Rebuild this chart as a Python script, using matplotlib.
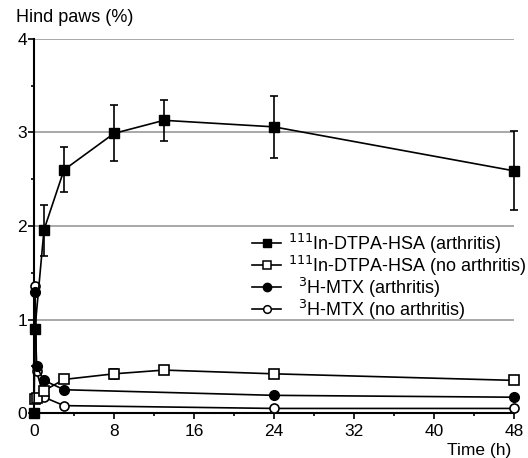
import matplotlib
matplotlib.use('Agg')
import matplotlib.pyplot as plt
from matplotlib.ticker import MultipleLocator
from matplotlib.lines import Line2D

plt.rcParams['font.family'] = ['Liberation Sans', 'DejaVu Sans']

# 111In-DTPA-HSA (arthritis)
t_hsa_a = [0, 0.1, 1, 3, 8, 13, 24, 48]
y_hsa_a = [0.0, 0.9, 1.96, 2.6, 2.99, 3.13, 3.06, 2.59]
lo_hsa_a = [0, 0, 0.28, 0.24, 0.29, 0.22, 0.33, 0.42]
hi_hsa_a = [0, 0, 0.27, 0.24, 0.30, 0.22, 0.33, 0.43]

# 111In-DTPA-HSA (no arthritis)
t_hsa_n = [0.1, 0.25, 1, 3, 8, 13, 24, 48]
y_hsa_n = [0.15, 0.16, 0.24, 0.36, 0.42, 0.46, 0.42, 0.35]
err_hsa_n = [0, 0, 0, 0, 0.05, 0.02, 0.03, 0.02]

# 3H-MTX (arthritis)
t_mtx_a = [0.1, 0.25, 1, 3, 24, 48]
y_mtx_a = [1.29, 0.5, 0.35, 0.25, 0.19, 0.17]

# 3H-MTX (no arthritis)
t_mtx_n = [0.1, 0.25, 1, 3, 24, 48]
y_mtx_n = [1.36, 0.45, 0.17, 0.08, 0.05, 0.05]

labels = ['$^{111}$In-DTPA-HSA (arthritis)',
          '$^{111}$In-DTPA-HSA (no arthritis)',
          '  $^{3}$H-MTX (arthritis)',
          '  $^{3}$H-MTX (no arthritis)']

fig = plt.figure(figsize=(5.28, 4.58), dpi=100)
ax = fig.add_axes([0.0644, 0.098, 0.909, 0.817])

for y in [1, 2, 3, 4]:
    ax.axhline(y, color='#999999', lw=1.2, zorder=0)

kw = dict(color='black', lw=1.2, capsize=3, elinewidth=1.2, capthick=1.2, clip_on=False)
ax.errorbar(t_hsa_a, y_hsa_a, yerr=[lo_hsa_a, hi_hsa_a], fmt='-s', ms=7,
            mfc='black', mec='black', zorder=5, **kw)
ax.errorbar(t_hsa_n, y_hsa_n, yerr=err_hsa_n, fmt='-s', ms=7,
            mfc='white', mec='black', mew=1.2, zorder=4, **kw)
ax.plot(t_mtx_a, y_mtx_a, '-o', color='black', lw=1.2, ms=7,
        mfc='black', zorder=4, clip_on=False)
ax.plot(t_mtx_n, y_mtx_n, '-o', color='black', lw=1.2, ms=6.5,
        mfc='white', mew=1.2, zorder=3, clip_on=False)

ax.set_xlim(0, 48)
ax.set_ylim(0, 4)
ax.xaxis.set_major_locator(MultipleLocator(8))
ax.xaxis.set_minor_locator(MultipleLocator(4))
ax.yaxis.set_major_locator(MultipleLocator(1))
ax.yaxis.set_minor_locator(MultipleLocator(0.5))
ax.tick_params(which='both', direction='out', labelsize=12.5, width=1.2)
ax.tick_params(which='major', length=4)
ax.tick_params(which='minor', length=2)
ax.tick_params(axis='y', pad=1)
for s in ['top', 'right']:
    ax.spines[s].set_visible(False)
for s in ['left', 'bottom']:
    ax.spines[s].set_linewidth(1.5)

fig.text(0.03, 0.962, 'Hind paws (%)', fontsize=13, va='center')
fig.text(0.968, 0.016, 'Time (h)', fontsize=12.5, ha='right', va='center')

handles = [
    Line2D([], [], color='black', lw=1.2, marker='s', ms=6, mfc='black'),
    Line2D([], [], color='black', lw=1.2, marker='s', ms=6, mfc='white', mew=1.1),
    Line2D([], [], color='black', lw=1.2, marker='o', ms=6, mfc='black'),
    Line2D([], [], color='black', lw=1.2, marker='o', ms=5.5, mfc='white', mew=1.1),
]
ax.legend(handles, labels, loc='upper left', bbox_to_anchor=(0.455, 0.485),
          frameon=False, fontsize=13, handlelength=1.6, handletextpad=0.4,
          labelspacing=-0.12, borderaxespad=0, borderpad=0)

fig.savefig('out.png', dpi=100)
